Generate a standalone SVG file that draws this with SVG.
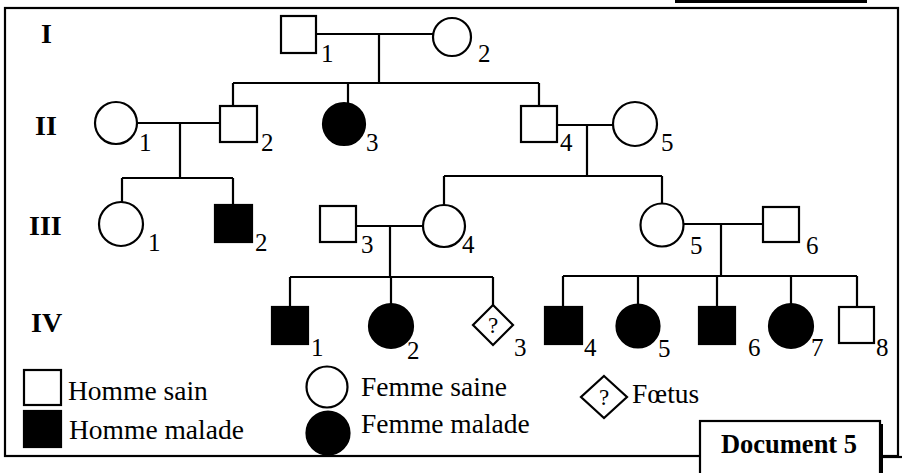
<svg xmlns="http://www.w3.org/2000/svg" width="902" height="473" viewBox="0 0 902 473">
<style>
.o{fill:#fff;stroke:#000;stroke-width:2.2}
.f{fill:#000;stroke:#000;stroke-width:2.2}
.ln{fill:none;stroke:#000;stroke-width:2.2}
.n{font-family:"Liberation Serif","Times New Roman",serif;font-size:25px;fill:#000}
.g{font-family:"Liberation Serif","Times New Roman",serif;font-size:28px;font-weight:bold;fill:#000}
.lg{font-family:"Liberation Serif","Times New Roman",serif;font-size:27.5px;fill:#000}
.q{font-family:"Liberation Serif","Times New Roman",serif;font-size:23px;fill:#000;text-anchor:middle}
.doc{font-family:"Liberation Serif","Times New Roman",serif;font-size:26.5px;font-weight:bold;fill:#000;text-anchor:middle}
</style>
<rect x="0" y="0" width="902" height="473" fill="#fff"/>
<rect x="675" y="-2" width="192" height="5" fill="#000"/>
<rect x="5" y="8" width="893" height="448" fill="none" stroke="#000" stroke-width="2.2"/>
<line x1="870" y1="457" x2="902" y2="457" stroke="#000" stroke-width="2.2"/>

<g id="generations">
<text class="g" x="41" y="43">I</text>
<text class="g" x="35" y="135">II</text>
<text class="g" x="29" y="235">III</text>
<text class="g" x="31" y="332">IV</text>
</g>

<g id="connectors">
<path class="ln" d="M316 34H433 M379 34V83 M233 83H539 M233 83V106 M348 83V103 M539 83V106"/>
<path class="ln" d="M137 123H220 M180 123V178 M122 178H233 M122 178V202 M233 178V205"/>
<path class="ln" d="M557 125H613 M587 125V176 M444 176H662 M444 176V205 M662 176V203"/>
<path class="ln" d="M356 226H423 M390 226V277 M290 277H493 M290 277V307 M391 277V304 M493 277V305"/>
<path class="ln" d="M683 224H763 M721 224V276 M563 276H857 M563 276V307 M638 276V304 M717 276V307 M791 276V304 M857 276V307"/>
</g>

<g id="I1"><rect class="o" x="281" y="16" width="35" height="37"/><text class="n" x="321" y="62">1</text></g>
<g id="I2"><circle class="o" cx="452" cy="37" r="19"/><text class="n" x="478" y="62">2</text></g>

<g id="II1"><circle class="o" cx="116" cy="123" r="21"/><text class="n" x="139" y="151">1</text></g>
<g id="II2"><rect class="o" x="220" y="106" width="37" height="36"/><text class="n" x="261" y="151">2</text></g>
<g id="II3"><circle class="f" cx="344" cy="124" r="21"/><text class="n" x="366" y="151">3</text></g>
<g id="II4"><rect class="o" x="521" y="106" width="36" height="36"/><text class="n" x="560" y="151">4</text></g>
<g id="II5"><circle class="o" cx="635" cy="124" r="22"/><text class="n" x="661" y="151">5</text></g>

<g id="III1"><circle class="o" cx="121" cy="224" r="22"/><text class="n" x="148" y="251">1</text></g>
<g id="III2"><rect class="f" x="215" y="205" width="37" height="37"/><text class="n" x="255" y="251">2</text></g>
<g id="III3"><rect class="o" x="320" y="206" width="36" height="36"/><text class="n" x="361" y="253">3</text></g>
<g id="III4"><circle class="o" cx="444" cy="226" r="21"/><text class="n" x="462" y="253">4</text></g>
<g id="III5"><circle class="o" cx="662" cy="225" r="21.5"/><text class="n" x="690" y="254">5</text></g>
<g id="III6"><rect class="o" x="763" y="207" width="36" height="35"/><text class="n" x="806" y="254">6</text></g>

<g id="IV1"><rect class="f" x="272" y="307" width="36" height="37"/><text class="n" x="311" y="356">1</text></g>
<g id="IV2"><circle class="f" cx="391" cy="326" r="22"/><text class="n" x="407" y="359">2</text></g>
<g id="IV3"><polygon class="o" points="493,305 513,325 493,345 473,325"/><text class="q" x="493" y="333">?</text><text class="n" x="514" y="356">3</text></g>
<g id="IV4"><rect class="f" x="545" y="307" width="37" height="37"/><text class="n" x="584" y="356">4</text></g>
<g id="IV5"><circle class="f" cx="638" cy="326" r="21.5"/><text class="n" x="658" y="357">5</text></g>
<g id="IV6"><rect class="f" x="699" y="307" width="36" height="37"/><text class="n" x="748" y="356">6</text></g>
<g id="IV7"><circle class="f" cx="791" cy="326" r="22"/><text class="n" x="811" y="356">7</text></g>
<g id="IV8"><rect class="o" x="839" y="307" width="35" height="36"/><text class="n" x="876" y="356">8</text></g>

<g id="legend">
<rect class="o" x="24" y="370" width="37" height="35"/><text class="lg" x="68" y="400">Homme sain</text>
<rect class="f" x="24" y="411" width="37" height="36"/><text class="lg" x="69" y="439">Homme malade</text>
<circle class="o" cx="327" cy="387" r="20.5"/><text class="lg" x="361" y="396">Femme saine</text>
<circle class="f" cx="328" cy="433" r="21.5"/><text class="lg" x="361" y="433">Femme malade</text>
<polygon class="o" points="604,376 627,397 604,418 581,397"/><text class="q" x="604" y="405">?</text><text class="lg" x="632" y="403">Fœtus</text>
</g>

<g id="document">
<rect x="700" y="421" width="180" height="60" fill="#fff" stroke="#000" stroke-width="2.2"/>
<line x1="881" y1="424" x2="881" y2="473" stroke="#000" stroke-width="4"/>
<text class="doc" x="789" y="453">Document 5</text>
</g>
</svg>
